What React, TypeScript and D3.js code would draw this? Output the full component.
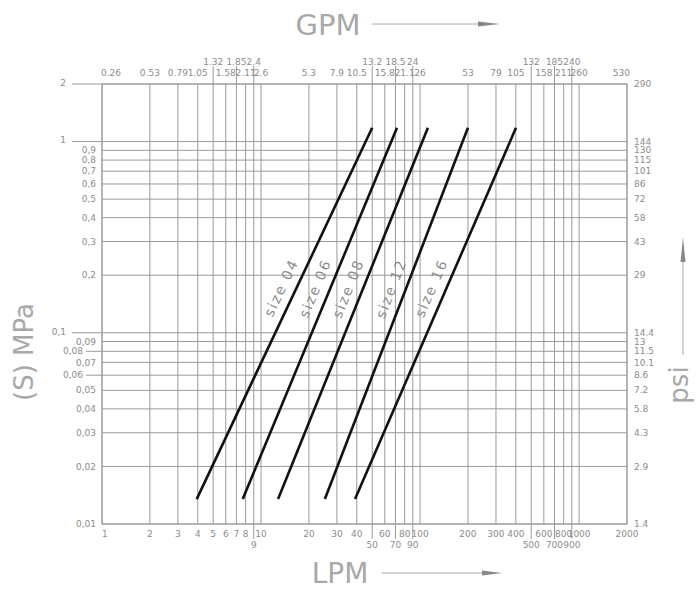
import * as d3 from 'd3';

// flow grid (LPM) and the matching GPM labels on top
const lpmTicks = [1, 2, 3, 4, 5, 6, 7, 8, 9, 10, 20, 30, 40, 50, 60, 70, 80, 90, 100, 200, 300, 400, 500, 600, 700, 800, 900, 1000, 2000];
const gpmLabels = ['0.26', '0.53', '0.79', '1.05', '1.32', '1.58', '1.85', '2.11', '2.4', '2.6', '5.3', '7.9', '10.5', '13.2', '15.8', '18.5', '21.1', '24', '26', '53', '79', '105', '132', '158', '185', '211', '240', '260', '530'];
// ticks whose labels sit on the second (outer) row
const topRaised = [5, 7, 9, 50, 70, 90, 500, 700, 900];
const bottomLowered = [9, 50, 70, 90, 500, 700, 900];

// pressure grid (MPa) and psi labels on the right
const mpaTicks = [2, 1, 0.9, 0.8, 0.7, 0.6, 0.5, 0.4, 0.3, 0.2, 0.1, 0.09, 0.08, 0.07, 0.06, 0.05, 0.04, 0.03, 0.02, 0.01];
const mpaLabels = ['2', '1', '0,9', '0,8', '0,7', '0,6', '0,5', '0,4', '0,3', '0,2', '0,1', '0,09', '0,08', '0,07', '0,06', '0,05', '0,04', '0,03', '0,02', '0,01'];
const psiLabels = ['290', '144', '130', '115', '101', '86', '72', '58', '43', '29', '14.4', '13', '11.5', '10.1', '8.6', '7.2', '5.8', '4.3', '2.9', '1.4'];

// size curves: flow at the low / high pressure end
const sizeNames = ['size 04', 'size 06', 'size 08', 'size 12', 'size 16'];
const flowLow = [3.94, 7.67, 12.8, 25.2, 39];
const flowHigh = [50, 71.6, 112, 200, 401];
const pressureEnds = [0.0135, 1.18];
const labelPressure = 0.16;

const X0 = 102, X1 = 627, Y0 = 84, Y1 = 524;
const GRID = '#9a9a9a';
const TXT = '#8c8c8c';
const TITLE = '#a8a8a8';
const FONT = '"DejaVu Sans", sans-serif';

export default function App() {
  const x = d3.scaleLog().domain([1, 2000]).range([X0, X1]);
  const y = d3.scaleLog().domain([0.01, 2]).range([Y1, Y0]);

  const curve = d3.line<[number, number]>()
    .x((d) => x(d[0]))
    .y((d) => y(d[1]));

  const leftKind = (v: number) => {
    if (v === 2 || v === 1 || v === 0.1) return 'long';
    if (v === 0.08 || v === 0.06) return 'mid';
    return 'short';
  };

  return (
    <svg width={696} height={590} fontFamily={FONT}
      style={{ position: 'absolute', left: 0, top: 0, display: 'block', background: '#fff' }}>
      {/* vertical grid */}
      {lpmTicks.map((v, i) => {
        const up = topRaised.includes(v);
        const down = bottomLowered.includes(v);
        return (
          <line key={`v${i}`} x1={x(v)} x2={x(v)} y1={up ? Y0 - 18 : Y0} y2={down ? Y1 + 15 : Y1}
            stroke={GRID} strokeWidth={1} />
        );
      })}
      {/* horizontal grid */}
      {mpaTicks.map((v, i) => {
        const k = leftKind(v);
        const start = k === 'long' ? 72 : k === 'mid' ? 86 : X0;
        return <line key={`h${i}`} x1={start} x2={X1} y1={y(v)} y2={y(v)} stroke={GRID} strokeWidth={1} />;
      })}
      <rect x={X0} y={Y0} width={X1 - X0} height={Y1 - Y0} fill="none" stroke={GRID} strokeWidth={1} />

      {/* top GPM labels */}
      {lpmTicks.map((v, i) => {
        const up = topRaised.includes(v);
        const first = i === 0;
        const last = i === lpmTicks.length - 1;
        return (
          <text key={`g${i}`} x={first ? x(v) - 1 : last ? x(v) + 3 : x(v)} y={up ? Y0 - 19 : Y0 - 8}
            textAnchor={first ? 'start' : last ? 'end' : 'middle'} fontSize={9} fill={TXT}>
            {gpmLabels[i]}
          </text>
        );
      })}
      {/* bottom LPM labels */}
      {lpmTicks.map((v, i) => {
        const down = bottomLowered.includes(v);
        const first = i === 0;
        return (
          <text key={`l${i}`} x={x(v)} y={down ? Y1 + 24 : Y1 + 13}
            textAnchor={first ? 'start' : 'middle'} fontSize={9} fill={TXT}>
            {v}
          </text>
        );
      })}
      {/* left MPa labels */}
      {mpaTicks.map((v, i) => {
        const k = leftKind(v);
        const lx = k === 'long' ? 66 : k === 'mid' ? 83 : 96;
        return (
          <text key={`m${i}`} x={lx} y={y(v)} dy={k === 'long' ? '0.2em' : '0.35em'}
            textAnchor="end" fontSize={9} fill={TXT}>
            {mpaLabels[i]}
          </text>
        );
      })}
      {/* right psi labels */}
      {mpaTicks.map((v, i) => (
        <text key={`p${i}`} x={X1 + 7} y={y(v)} dy="0.35em" fontSize={9} fill={TXT}>
          {psiLabels[i]}
        </text>
      ))}

      {/* size curves */}
      {sizeNames.map((name, i) => {
        const pts: [number, number][] = [[flowLow[i], pressureEnds[0]], [flowHigh[i], pressureEnds[1]]];
        const ang = Math.atan2(y(pressureEnds[1]) - y(pressureEnds[0]), x(flowHigh[i]) - x(flowLow[i]));
        const t = (Math.log(labelPressure) - Math.log(pressureEnds[0])) / (Math.log(pressureEnds[1]) - Math.log(pressureEnds[0]));
        const lf = Math.exp(Math.log(flowLow[i]) + t * (Math.log(flowHigh[i]) - Math.log(flowLow[i])));
        const cx = x(lf);
        const cy = y(labelPressure);
        const deg = (ang * 180) / Math.PI;
        return (
          <g key={name}>
            <path d={curve(pts) ?? ''} stroke="#111" strokeWidth={2.6} fill="none" />
            <text transform={`translate(${cx},${cy}) rotate(${deg})`} y={-9} textAnchor="middle"
              fontSize={14} letterSpacing={1.8} fill={TXT}>
              {name}
            </text>
          </g>
        );
      })}

      {/* axis titles */}
      <text x={328} y={35} textAnchor="middle" fontSize={29} fill={TITLE}>GPM</text>
      <line x1={372} x2={482} y1={24} y2={24} stroke={TITLE} strokeWidth={1} />
      <polygon points="478,21.5 500,24 478,26.5" fill="#888" />

      <text x={340} y={583} textAnchor="middle" fontSize={28} fill={TITLE}>LPM</text>
      <line x1={382} x2={485} y1={573} y2={573} stroke={TITLE} strokeWidth={1} />
      <polygon points="482,570.5 502,573 482,575.5" fill="#888" />

      <text transform="translate(33,352) rotate(-90)" textAnchor="middle" fontSize={26} fill={TITLE}>(S)  MPa</text>

      <text transform="translate(688,385) rotate(-90)" textAnchor="middle" fontSize={26} fill={TITLE}>psi</text>
      <line x1={683} x2={683} y1={355} y2={258} stroke={TITLE} strokeWidth={1} />
      <polygon points="680.5,262 683,237 685.5,262" fill="#888" />
    </svg>
  );
}
